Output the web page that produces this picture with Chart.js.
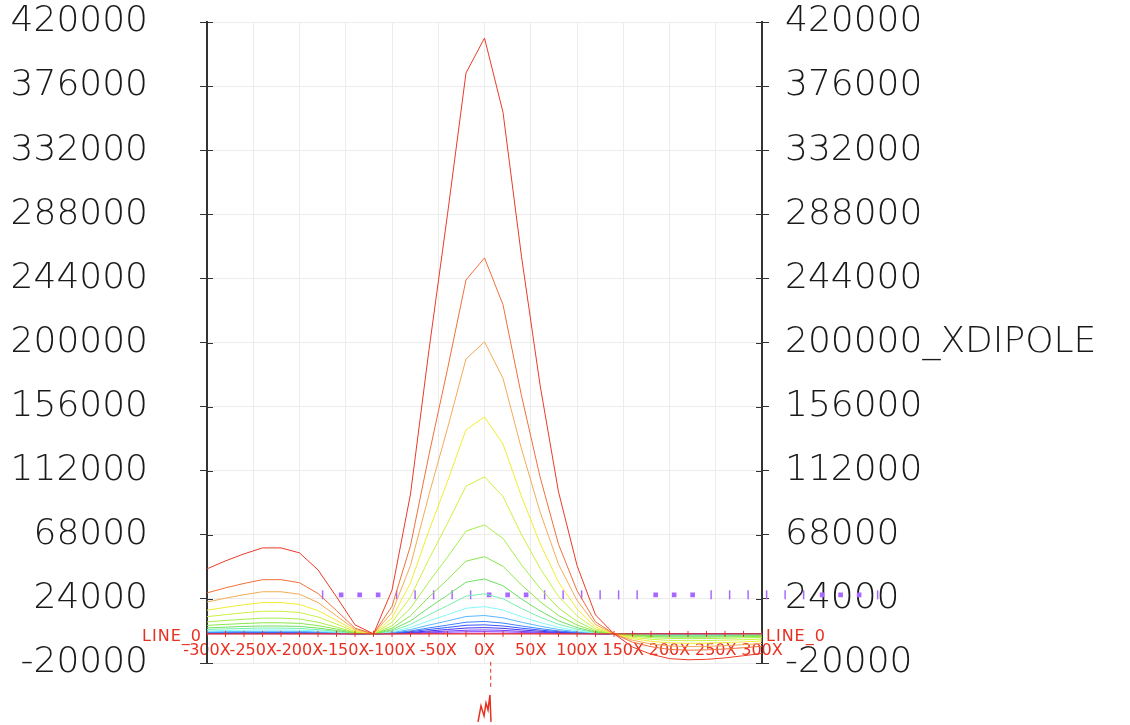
<!DOCTYPE html>
<html>
<head>
<meta charset="utf-8">
<title>XDIPOLE</title>
<script src="https://cdn.jsdelivr.net/npm/chart.js@4.4.1/dist/chart.umd.min.js"></script>
<style>
  html, body { margin: 0; padding: 0; background: #fff; }
  #wrap { width: 1130px; height: 725px; }
</style>
</head>
<body>
<div id="wrap"><canvas id="chart" width="1130" height="725"></canvas></div>
<script>
// sample positions along the scan
const xValues = [-300, -280, -260, -240, -220, -200, -180, -160, -140, -120, -100, -80, -60, -40, -20, 0,
  20, 40, 60, 80, 100, 120, 140, 160, 180, 200, 220, 240, 260, 280, 300];

// one curve per run, strongest first
const run01 = [44600, 50100, 54900, 59000, 59000, 55600, 43900, 25400, 6200, 0, 30000, 96000, 195000, 288000, 385000, 409000,
  358000, 259000, 171000, 97500, 47000, 13000, 0, -9000, -14000, -17000, -17800, -17500, -16500, -15000, -13500];
const run02 = [28100, 31600, 34600, 37200, 37200, 35100, 27700, 16000, 3900, 0, 18900, 60600, 123000, 181700, 242900, 258100,
  225900, 163400, 107900, 61500, 29700, 8200, 0, -5700, -8800, -10700, -11200, -11000, -10400, -9500, -8500];
const run03 = [21900, 24500, 26900, 28900, 28900, 27200, 21500, 12400, 3000, 0, 14700, 47000, 95600, 141100, 188700, 200400,
  175400, 126900, 83800, 47800, 23000, 6400, 0, -4400, -6900, -8300, -8700, -8600, -8100, -7400, -6600];
const run04 = [16200, 18200, 20000, 21500, 21500, 20200, 16000, 9200, 2300, 0, 10900, 34900, 71000, 104800, 140100, 148900,
  130300, 94300, 62200, 35500, 17100, 4700, 0, -3300, -5100, -6200, -6500, -6400, -6000, -5500, -4900];
const run05 = [11800, 13200, 14500, 15500, 15500, 14700, 11600, 6700, 1600, 0, 7900, 25300, 51400, 75900, 101400, 107800,
  94300, 68200, 45100, 25700, 12400, 3400, 0, -2400, -3700, -4500, -4700, -4600, -4300, -4000, -3600];
const run06 = [8200, 9200, 10000, 10800, 10800, 10200, 8000, 4600, 1100, 0, 5500, 17600, 35700, 52700, 70500, 74800,
  65500, 47400, 31300, 17800, 8600, 2400, 0, -1600, -2600, -3100, -3300, -3200, -3000, -2700, -2500];
const run07 = [5800, 6500, 7100, 7600, 7600, 7200, 5700, 3300, 800, 0, 3900, 12400, 25300, 37300, 49900, 53000,
  46400, 33600, 22200, 12600, 6100, 1700, 0, -1200, -1800, -2200, -2300, -2300, -2100, -1900, -1700];
const run08 = [4100, 4600, 5100, 5400, 5400, 5100, 4000, 2300, 600, 0, 2800, 8900, 18000, 26600, 35500, 37700,
  33000, 23900, 15800, 9000, 4300, 1200, 0, -800, -1300, -1600, -1600, -1600, -1500, -1400, -1200];
const run09 = [3000, 3400, 3700, 4000, 4000, 3700, 2900, 1700, 400, 0, 2000, 6500, 13100, 19400, 25900, 27500,
  24100, 17400, 11500, 6600, 3200, 900, 0, -600, -900, -1100, -1200, -1200, -1100, -1000, -900];
const run10 = [2000, 2300, 2500, 2700, 2700, 2500, 2000, 1200, 300, 0, 1400, 4400, 8900, 13200, 17600, 18700,
  16400, 11800, 7800, 4500, 2100, 600, 0, -400, -600, -800, -800, -800, -800, -700, -600];
const run11 = [1400, 1500, 1700, 1800, 1800, 1700, 1400, 800, 200, 0, 900, 3000, 6000, 8900, 11900, 12600,
  11000, 8000, 5300, 3000, 1400, 400, 0, -300, -400, -500, -500, -500, -500, -500, -400];
const run12 = [900, 1000, 1100, 1200, 1200, 1200, 900, 500, 100, 0, 600, 2000, 4100, 6000, 8000, 8500,
  7400, 5400, 3600, 2000, 1000, 300, 0, -200, -300, -400, -400, -400, -300, -300, -300];
const run13 = [700, 800, 800, 900, 900, 800, 700, 400, 100, 0, 500, 1500, 3000, 4400, 5900, 6200,
  5400, 3900, 2600, 1500, 700, 200, 0, -100, -200, -300, -300, -300, -300, -200, -200];
const run14 = [500, 500, 600, 600, 600, 600, 500, 300, 100, 0, 300, 1000, 2000, 3000, 4000, 4300,
  3800, 2700, 1800, 1000, 500, 100, 0, -100, -100, -200, -200, -200, -200, -200, -100];
const run15 = [300, 300, 400, 400, 400, 400, 300, 200, 0, 0, 200, 600, 1300, 1900, 2500, 2700,
  2400, 1700, 1100, 600, 300, 100, 0, -100, -100, -100, -100, -100, -100, -100, -100];
const run16 = [200, 200, 200, 200, 200, 200, 200, 100, 0, 0, 100, 400, 800, 1100, 1500, 1600,
  1400, 1000, 700, 400, 200, 100, 0, 0, -100, -100, -100, -100, -100, -100, -100];
const run17 = [100, 100, 100, 100, 100, 100, 100, 0, 0, 0, 0, 100, 200, 300, 500, 500,
  400, 300, 200, 100, 100, 0, 0, 0, 0, 0, 0, 0, 0, 0, 0];

const runs = [run01, run02, run03, run04, run05, run06, run07, run08, run09,
  run10, run11, run12, run13, run14, run15, run16, run17];
const runColors = ['#ec3a28', '#f0703a', '#f5aa55', '#f2ec30', '#ccf040', '#a8ee48', '#88e648', '#6ee060',
  '#78eeb0', '#84f8f8', '#58b8ff', '#3c80ff', '#3454ff', '#4232f0', '#6a40ff', '#9252ff', '#c052ff'];

// reference level marked along the scan
const levelX = [-175, -155, -135, -115, -95, -75, -55, -35, -15, 5, 25, 45, 65, 85, 105, 125,
  145, 165, 185, 205, 225, 245, 265, 285, 305, 325, 345, 365, 385, 405, 425];
const levelValue = 26800;
const levelMarks = ['tick', 'dot', 'dot', 'dot', 'tick', 'tick', 'tick', 'tick', 'tick', 'dot', 'dot', 'dot',
  'tick', 'tick', 'tick', 'tick', 'tick', 'tick', 'dot', 'dot', 'dot', 'tick', 'tick', 'tick', 'tick', 'tick',
  'tick', 'dot', 'dot', 'dot', 'tick'];

// stray pen trace below the frame
const traceDashX = [6.7, 6.7];
const traceDashY = [-19200, -38400];
const traceX = [-7, -3.8, -0.5, 1.6, 3.8, 5.9, 7];
const traceY = [-60400, -49400, -56300, -47400, -52200, -41900, -60400];

const yTicks = { min: -20000, max: 420000, step: 44000 };
const zeroLineName = 'LINE_0';
const rightTagValue = 200000;
const rightTag = '_XDIPOLE';

const red = '#e83020';
const purple = '#a868ff';
const axisInk = '#333333';
const gridInk = '#ececec';

const toPoints = (xs, ys) => xs.map((x, i) => ({ x: x, y: ys[i] }));

const datasets = [];
datasets.push({
  label: zeroLineName,
  data: toPoints(xValues, xValues.map(() => 0)),
  borderColor: red,
  borderWidth: 1.2,
  pointStyle: 'line',
  pointRotation: 90,
  pointRadius: 3,
  pointBorderColor: red,
  pointBorderWidth: 1
});
runs.forEach((run, i) => {
  datasets.push({
    label: 'run' + (i + 1),
    data: toPoints(xValues, run),
    borderColor: runColors[i],
    borderWidth: 1,
    pointRadius: 0,
    tension: 0
  });
});
// listed right-to-left so none of the marks past the frame get trimmed
datasets.push({
  label: 'level',
  data: toPoints(levelX, levelX.map(() => levelValue)).reverse(),
  showLine: false,
  clip: false,
  pointStyle: levelMarks.map(k => (k === 'tick' ? 'line' : 'rect')).reverse(),
  pointRotation: 90,
  pointRadius: levelMarks.map(k => (k === 'tick' ? 4.5 : 2.2)).reverse(),
  pointBorderWidth: 1.5,
  pointBorderColor: purple,
  pointBackgroundColor: purple
});
const levelIndex = datasets.length - 1;
datasets.push({
  label: 'trace-dash',
  data: toPoints(traceDashX, traceDashY),
  borderColor: red,
  borderWidth: 1,
  borderDash: [4, 3],
  pointRadius: 0,
  clip: false
});
datasets.push({
  label: 'trace',
  data: toPoints(traceX, traceY),
  borderColor: red,
  borderWidth: 1.5,
  pointRadius: 0,
  clip: false
});

// points skip themselves outside the chart area, so the level marks
// right of the frame are drawn here against the whole canvas
const outsideMarks = {
  id: 'outsideMarks',
  afterDatasetsDraw(chart) {
    const meta = chart.getDatasetMeta(levelIndex);
    const whole = { left: 0, top: 0, right: chart.width, bottom: chart.height };
    meta.data.forEach(pt => {
      if (pt.x > chart.chartArea.right + 6) pt.draw(chart.ctx, whole);
    });
  }
};

// LINE_0 captions and the inner half of the axis tick marks
const axisMarks = {
  id: 'axisMarks',
  afterDraw(chart) {
    const { ctx, chartArea, scales } = chart;
    const y0 = scales.y.getPixelForValue(0);
    ctx.save();
    ctx.strokeStyle = axisInk;
    ctx.lineWidth = 1;
    scales.y.ticks.forEach(t => {
      const py = Math.round(scales.y.getPixelForValue(t.value)) + 0.5;
      ctx.beginPath();
      ctx.moveTo(chartArea.left, py);
      ctx.lineTo(chartArea.left + 6, py);
      ctx.moveTo(chartArea.right - 6, py);
      ctx.lineTo(chartArea.right, py);
      ctx.stroke();
    });
    ctx.fillStyle = red;
    ctx.font = '16px "DejaVu Sans"';
    ctx.letterSpacing = '1px';
    ctx.textBaseline = 'middle';
    ctx.textAlign = 'right';
    ctx.fillText(zeroLineName, chartArea.left - 5, y0 + 3);
    ctx.textAlign = 'left';
    ctx.fillText(zeroLineName, chartArea.right + 4, y0 + 3);
    ctx.restore();
  }
};

const yFont = { family: 'DejaVu Sans', size: 36, weight: 200 };

// the wide label gap should not push the plot down from the top
const fitSide = width => s => {
  s.width = width;
  s.paddingTop = 0;
  s.paddingBottom = 0;
};

new Chart(document.getElementById('chart'), {
  type: 'line',
  data: { datasets: datasets },
  options: {
    responsive: false,
    animation: false,
    layout: { padding: { top: 22, bottom: 62, left: 0, right: 0 } },
    plugins: { legend: { display: false }, tooltip: { enabled: false } },
    scales: {
      x: {
        type: 'linear',
        min: -300,
        max: 300,
        position: { y: 0 },
        grid: { color: gridInk, drawTicks: false },
        border: { display: false },
        ticks: {
          stepSize: 50,
          autoSkip: false,
          maxRotation: 0,
          padding: 7,
          color: red,
          font: { family: 'DejaVu Sans', size: 16 },
          callback: v => v + 'X'
        }
      },
      y: {
        position: 'left',
        min: yTicks.min,
        max: yTicks.max,
        afterFit: fitSide(207),
        grid: { color: gridInk, tickColor: axisInk, tickLength: 7 },
        border: { color: axisInk, width: 2 },
        ticks: { stepSize: yTicks.step, padding: 52, color: '#1a1a1a', font: yFont, callback: v => String(v) }
      },
      y1: {
        position: 'right',
        min: yTicks.min,
        max: yTicks.max,
        afterFit: fitSide(368),
        grid: { drawOnChartArea: false, tickColor: axisInk, tickLength: 7 },
        border: { color: axisInk, width: 2 },
        ticks: {
          stepSize: yTicks.step,
          padding: 16,
          color: '#1a1a1a',
          font: yFont,
          callback: v => (v === rightTagValue ? v + rightTag : String(v))
        }
      }
    }
  },
  plugins: [outsideMarks, axisMarks]
});
</script>
</body>
</html>
